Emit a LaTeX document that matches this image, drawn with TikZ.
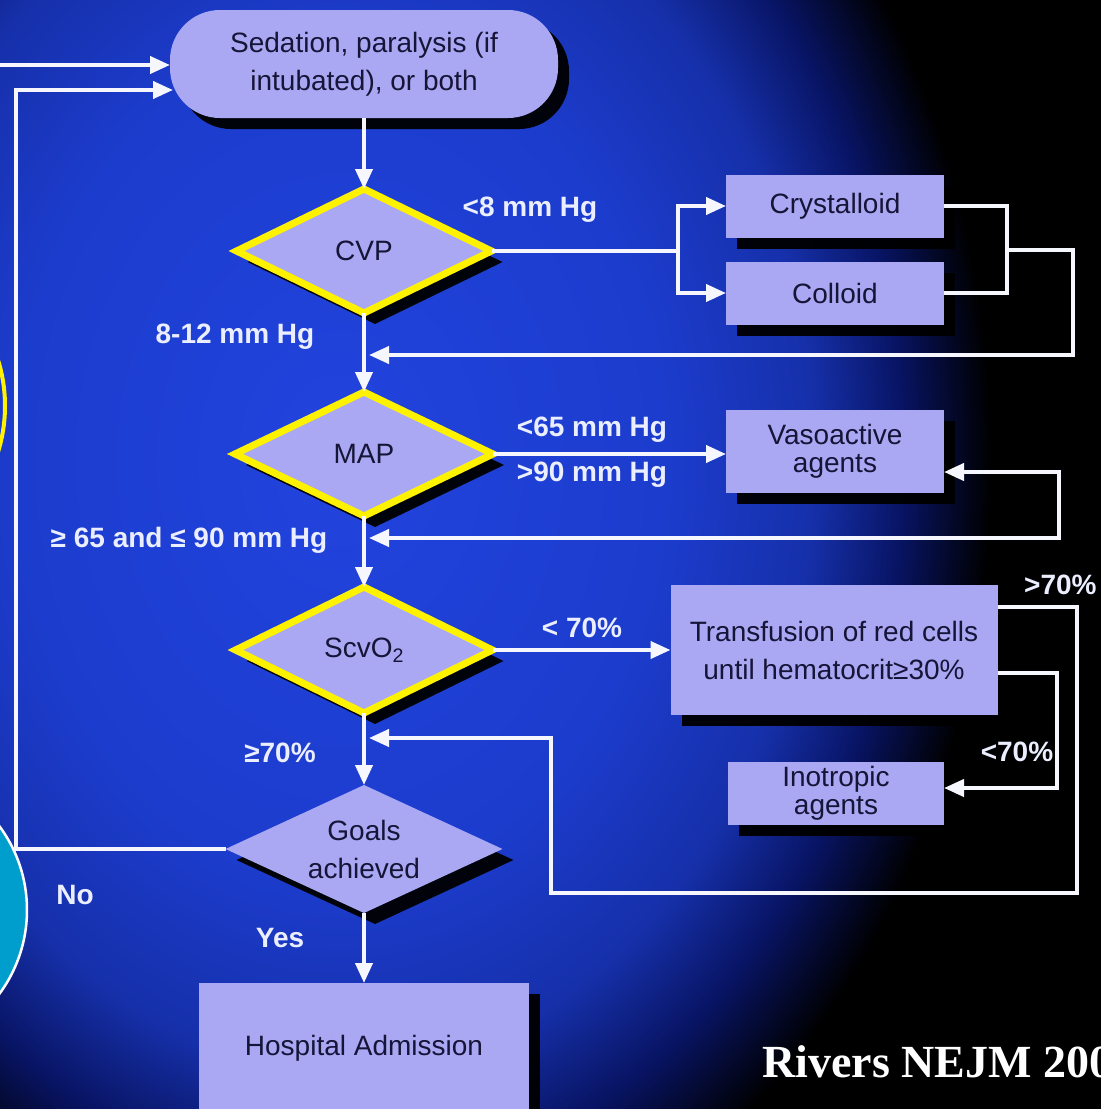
\documentclass[tikz,border=0pt]{standalone}
\usepackage{fontspec}
\setmainfont{Liberation Sans}
\newfontfamily\citefont{Liberation Serif}
\usetikzlibrary{shapes.geometric,arrows.meta,shadows,calc}
\definecolor{boxfill}{RGB}{170,168,243}
\definecolor{boxtext}{RGB}{22,20,55}
\definecolor{hl}{RGB}{255,242,0}
\definecolor{wline}{RGB}{246,246,255}
\definecolor{lbl}{RGB}{234,238,255}
\definecolor{cyanc}{RGB}{0,158,204}
\definecolor{bgA}{RGB}{34,68,222}
\definecolor{bgB}{RGB}{28,60,205}
\definecolor{bgC}{RGB}{22,48,170}
\definecolor{bgD}{RGB}{8,20,100}
\pgfdeclareradialshading{bgglow}{\pgfpoint{0bp}{0bp}}{color(0bp)=(bgA); color(11bp)=(bgB); color(16bp)=(bgC); color(19bp)=(bgD); color(22bp)=(black); color(50bp)=(black)}
\tikzset{
  shd/.style={drop shadow={shadow xshift=11pt, shadow yshift=-11pt, fill=black, opacity=0.95}},
  box/.style={rectangle, fill=boxfill, text=boxtext, font=\fontsize{28}{38}\selectfont,
    align=center, inner sep=0pt, outer sep=0pt, shd},
  tightbox/.style={box, font=\fontsize{28}{28}\selectfont},
  dec/.style={diamond, aspect=2.1, fill=boxfill, text=boxtext, draw=hl, line width=7pt,
    font=\fontsize{28}{38}\selectfont, align=center, inner sep=0pt, outer sep=0pt, shd},
  goaldec/.style={dec, draw=none},
  wl/.style={draw=wline, line width=4pt},
  arr/.style={wl, -{Triangle[length=20pt,width=17pt]}},
  darr/.style={wl, {Triangle[length=20pt,width=17pt]}-{Triangle[length=20pt,width=17pt]}},
  lab/.style={text=lbl, font=\bfseries\fontsize{28}{28}\selectfont, inner sep=0pt},
}
\begin{document}
\begin{tikzpicture}[x=1pt,y=-1pt]
\useasboundingbox (0,0) rectangle (1101,1109);
\clip (0,0) rectangle (1101,1109);
% background
\fill[black] (0,0) rectangle (1101,1109);
\shade[shading=bgglow] (-400,-490) rectangle (1080,1410);
% decorative circles at left edge
\draw[hl, line width=4pt] (-149,406) circle[radius=154];
\draw[fill=cyanc, draw=white, line width=2.5pt] (-114,910) circle[radius=141];

% nodes
\node[box, rounded corners=50pt, minimum width=388pt, minimum height=108pt] (sed) at (364,64)
  {Sedation, paralysis (if\\intubated), or both};
\node[dec, minimum width=255pt, minimum height=124pt] (cvp) at (364,251) {CVP};
\node[dec, minimum width=258pt, minimum height=124pt] (map) at (364,454) {MAP};
\node[dec, minimum width=257pt, minimum height=126pt] (scv) at (364,650) {ScvO\textsubscript{2}};
\node[goaldec, minimum width=277pt, minimum height=128pt] (goals) at (364,849) {Goals\\achieved};
\node[box, minimum width=330pt, minimum height=130pt] (hosp) at (364,1048) {Hospital Admission};

\node[box, minimum width=218pt, minimum height=63pt] (crys) at (835,206) {Crystalloid};
\node[box, minimum width=218pt, minimum height=63pt] (coll) at (835,293) {Colloid};
\node[tightbox, minimum width=218pt, minimum height=83pt] (vaso) at (835,451) {Vasoactive\\agents};
\node[box, minimum width=327pt, minimum height=130pt] (trans) at (834,650)
  {Transfusion of red cells\\until hematocrit≥30\%};
\node[tightbox, minimum width=216pt, minimum height=63pt] (ino) at (836,793) {Inotropic\\agents};

% coordinates
\coordinate (inA) at (0,65);
\coordinate (noX) at (16,90);
\coordinate (split) at (678,251);
\coordinate (jn) at (1007,250);
\coordinate (jx) at (1073,355);
\coordinate (ret1) at (369,355);
\coordinate (vx) at (1059,538);
\coordinate (ret2) at (369,538);
\coordinate (tc1) at (1077,893);
\coordinate (tc2) at (551,738);
\coordinate (ret3) at (369,738);
\coordinate (tc3) at (1057,788);

% spine
\draw[arr] (sed.south) -- (sed.south |- cvp.north);
\draw[arr] (cvp.south) -- (cvp.south |- map.north);
\draw[arr] (map.south) -- (map.south |- scv.north);
\draw[arr] (scv.south) -- (scv.south |- goals.north);
\draw[arr] (goals.south) -- (goals.south |- hosp.north);

% inputs to top node
\draw[arr] (inA) -- (inA -| sed.west);
\draw[arr] (goals.west) -| (noX) -- ([xshift=3pt]noX -| sed.west);

% CVP branch
\draw[wl] (cvp.east) -- (split);
\draw[arr] (split) |- (crys.west);
\draw[arr] (split) |- (coll.west);
\draw[wl] (crys.east) -| (jn) |- (coll.east);
\draw[arr] (jn) -| (jx) -- (ret1);

% MAP branch
\draw[arr] (map.east) -- (map.east -| vaso.west);
\draw[darr] ([yshift=-21pt]vaso.east) -| (vx) -- (ret2);

% ScvO2 branch
\draw[arr] (scv.east) -- (scv.east -| trans.west);
\draw[arr] ([yshift=43pt]trans.east) -| (tc1) -| (tc2) -- (ret3);
\draw[arr] ([yshift=-23pt]trans.east) -| (tc3) -- (tc3 -| ino.east);

% labels
\node[lab] (l8) at (530,210) {<8 mm Hg};
\node[lab] (l812) at (235,337) {8-12 mm Hg};
\node[lab] (l65) at (592,430) {<65 mm Hg};
\node[lab] (l90) at (592,475) {>90 mm Hg};
\node[lab] (lmid) at (189,540) {≥ 65 and ≤ 90 mm Hg};
\node[lab] (l70a) at (582,628) {< 70\%};
\node[lab, anchor=west] (l70b) at (1024,585) {>70\%};
\node[lab] (l70c) at (1017,752) {<70\%};
\node[lab] (l70d) at (280,753) {≥70\%};
\node[lab] (lno) at (75,895) {No};
\node[lab] (lyes) at (280,938) {Yes};
\node[anchor=base west, inner sep=0pt, text=white, font=\citefont\bfseries\fontsize{46}{46}\selectfont] (cite) at (762,1077) {Rivers NEJM 2001};
\end{tikzpicture}
\end{document}
